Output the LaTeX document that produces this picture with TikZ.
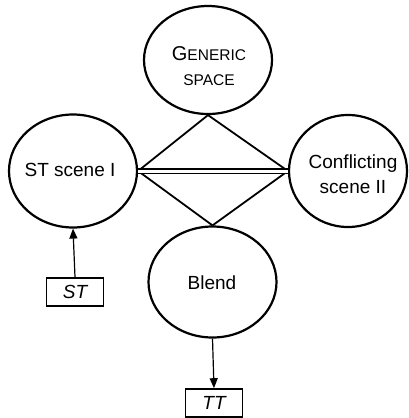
\documentclass[tikz,border=0pt]{standalone}
\usepackage{fontspec}
\setmainfont{Liberation Sans}
\usetikzlibrary{shapes.geometric,arrows.meta}
\begin{document}
\begin{tikzpicture}[x=1pt,y=-1pt,
 ell/.style={draw, ellipse, line width=2.2pt, inner sep=0pt},
 txt/.style={align=center, inner sep=0pt, font=\fontsize{19}{25}\selectfont},
 lbl/.style={draw, line width=1.6pt, minimum width=57pt, minimum height=28pt, inner sep=0pt, font=\fontsize{19}{23}\selectfont\itshape},
 link/.style={line width=1.8pt},
 arr/.style={line width=1.2pt, -{Triangle[length=10pt,width=8pt]}}]
\useasboundingbox (0,0) rectangle (408,418);
\node[ell, minimum width=128pt, minimum height=108pt] (gen) at (208,60) {};
\node[txt] (gent) at (209,66) {{\fontsize{20}{25}\selectfont G}{\fontsize{15.5}{25}\selectfont ENERIC}\\{\fontsize{15.5}{25}\selectfont SPACE}};
\node[ell, minimum width=128pt, minimum height=113pt] (st) at (73,171) {};
\node[txt] (stt) at (70,170) {ST scene I};
\node[ell, minimum width=118pt, minimum height=112pt] (conf) at (348,171) {};
\node[txt] (conft) at (353,174) {Conflicting\\scene II};
\node[ell, minimum width=128pt, minimum height=111pt] (blend) at (212.5,282) {};
\node[txt] (blendt) at (212,283) {Blend};
\node[lbl] (stbox) at (75,292) {ST};
\node[lbl] (ttbox) at (214,403) {TT};
\draw[link] (gen.south) -- (st.east);
\draw[link] (gen.south) -- (conf.west);
\draw[link] (blend.north) -- (st.east);
\draw[link] (blend.north) -- (conf.west);
\draw[line width=1.4pt, double, double distance=3pt] (st.east) -- (conf.west);
\draw[arr] (stbox.north) -- (st.south);
\draw[arr] (blend.south) -- (ttbox.north);
\end{tikzpicture}
\end{document}
